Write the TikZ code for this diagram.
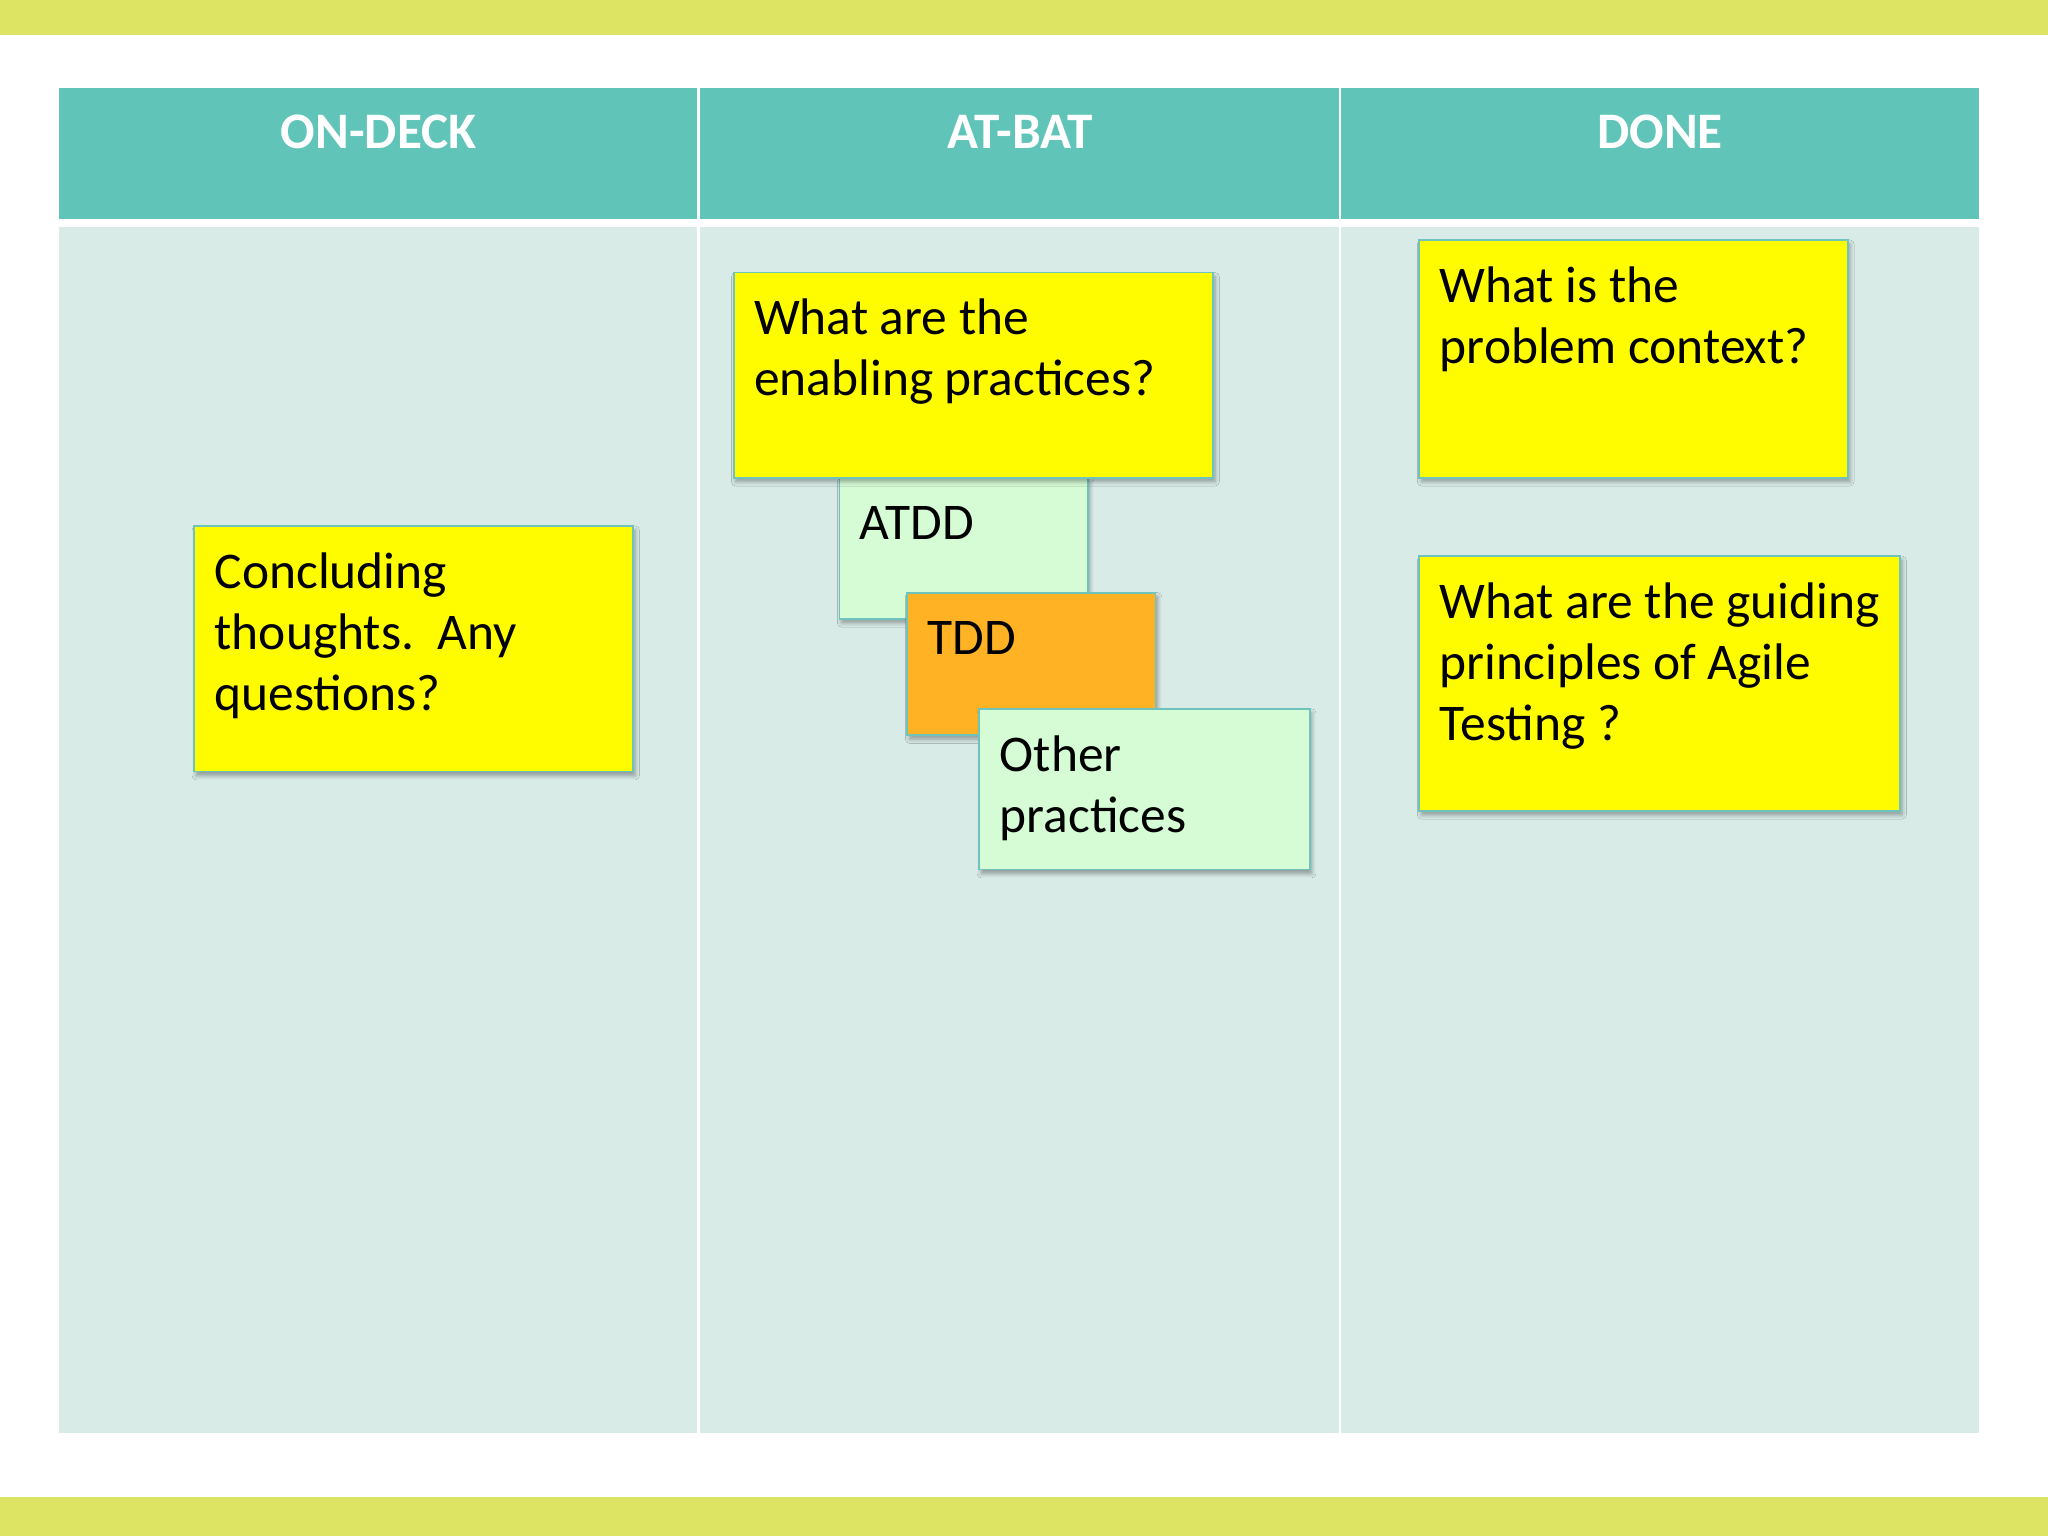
\documentclass[tikz,border=0pt]{standalone}
\usepackage{fontspec}
\setmainfont{Carlito}
\usetikzlibrary{shadows.blur}
\definecolor{barcol}{RGB}{221,227,98}
\definecolor{headcol}{RGB}{96,196,184}
\definecolor{bodycol}{RGB}{217,235,231}
\definecolor{noteyellow}{RGB}{255,252,0}
\definecolor{notegreen}{RGB}{214,252,214}
\definecolor{noteorange}{RGB}{255,178,36}
\definecolor{noteborder}{RGB}{110,196,188}
\begin{document}
\begin{tikzpicture}[x=0.5pt,y=-0.5pt,
  headtext/.style={text=white, font=\fontsize{19.6}{23}\selectfont\bfseries, inner sep=0pt, anchor=base},
  note/.style={draw=noteborder, line width=0.7pt, anchor=north west, inner sep=0pt,
    blur shadow={shadow xshift=0.8pt, shadow yshift=-1.6pt, shadow blur radius=1.6pt,
      shadow blur steps=6, shadow opacity=35}},
  notetext/.style={anchor=north west, inner sep=0pt, align=left,
    font=\fontsize{19.7}{23.3}\selectfont, text=black, xshift=8pt, yshift=-8pt},
]
\useasboundingbox (0,0) rectangle (1568,1176);
% background bars
\fill[white] (0,0) rectangle (1568,1176);
\fill[barcol] (0,0) rectangle (1568,27);
\fill[barcol] (0,1146) rectangle (1568,1176);
% header cells
\fill[headcol] (45,67) rectangle (534,168);
\fill[headcol] (536,67) rectangle (1025,168);
\fill[headcol] (1027,67) rectangle (1515,168);
% body cells
\fill[bodycol] (45,174) rectangle (534,1097);
\fill[bodycol] (536,174) rectangle (1025,1097);
\fill[bodycol] (1027,174) rectangle (1515,1097);
% header labels
\node[headtext] (h1) at (290,114) {ON-DECK};
\node[headtext] (h2) at (781,114) {AT-BAT};
\node[headtext] (h3) at (1271,114) {DONE};
% notes
\node[note, fill=noteyellow, minimum width=168pt, minimum height=94pt] (conc) at (148,402) {};
\node[notetext] (conct) at (conc.north west) {\rule{0pt}{16pt}Concluding\\thoughts.~\ Any\\questions?};

\node[note, fill=notegreen, minimum width=95pt, minimum height=54pt] (atdd) at (642,365) {};
\node[notetext] (atddt) at (atdd.north west) {\rule{0pt}{16pt}ATDD};

\node[note, fill=noteyellow, minimum width=183.5pt, minimum height=78.5pt] (enab) at (561,208) {};
\node[notetext] (enabt) at (enab.north west) {\rule{0pt}{16pt}What are the\\enabling practices?};

\node[note, fill=noteorange, minimum width=95pt, minimum height=54.5pt] (tdd) at (694,453) {};
\node[notetext] (tddt) at (tdd.north west) {\rule{0pt}{16pt}TDD};

\node[note, fill=notegreen, minimum width=126.5pt, minimum height=61.5pt] (other) at (749,542) {};
\node[notetext] (othert) at (other.north west) {\rule{0pt}{16pt}Other\\practices};

\node[note, fill=noteyellow, minimum width=164pt, minimum height=91pt] (prob) at (1086,183) {};
\node[notetext] (probt) at (prob.north west) {\rule{0pt}{16pt}What is the\\problem context?};

\node[note, fill=noteyellow, minimum width=184pt, minimum height=97.5pt] (guid) at (1086,425) {};
\node[notetext] (guidt) at (guid.north west) {\rule{0pt}{16pt}What are the guiding\\principles of Agile\\Testing ?};
\end{tikzpicture}
\end{document}
